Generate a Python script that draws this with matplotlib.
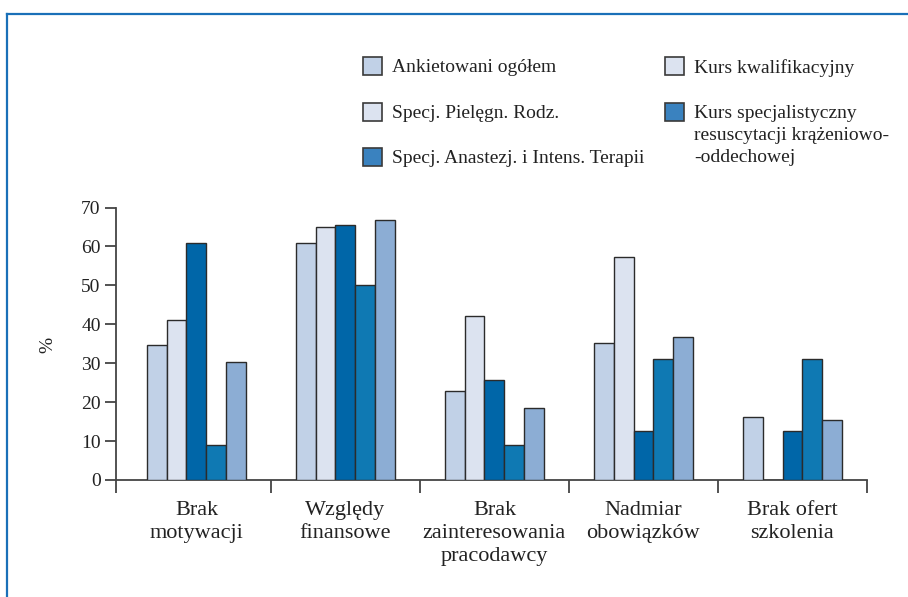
import matplotlib
matplotlib.use("Agg")
import matplotlib.pyplot as plt
from matplotlib.patches import Rectangle
from matplotlib.lines import Line2D
import numpy as np

plt.rcParams['font.family'] = ['Liberation Serif', 'DejaVu Serif']

categories = ["Brak\nmotywacji", "Względy\nfinansowe", "Brak\nzainteresowania\npracodawcy",
              "Nadmiar\nobowiązków", "Brak ofert\nszkolenia"]
series_names = ["Ankietowani ogółem", "Specj. Pielęgn. Rodz.", "Specj. Anastezj. i Intens. Terapii",
                "Kurs kwalifikacyjny", "Kurs specjalistyczny\nresuscytacji krążeniowo-\n-oddechowej"]
ankietowani = [34.7, 60.9, 22.8, 35.2, 16.3]
pielegn = [41.2, 65.0, 42.1, 57.3, 0.0]
anastezj = [60.9, 65.5, 25.7, 12.7, 12.7]
kurs_kwal = [9.1, 50.1, 9.0, 31.1, 31.2]
kurs_spec = [30.3, 66.8, 18.5, 36.7, 15.4]
series_values = [ankietowani, pielegn, anastezj, kurs_kwal, kurs_spec]
bar_colors = ["#c1d1e7", "#dce3f0", "#0066a8", "#0f79b3", "#8cadd4"]
legend_colors = ["#c1d1e7", "#dce3f0", "#3a82bf", "#dce3f0", "#3a82bf"]
yticks = [0, 10, 20, 30, 40, 50, 60, 70]

W, H = 908, 597
fig = plt.figure(figsize=(W / 100, H / 100), dpi=100)

def fx(px):
    return px / W

def fy(py):
    return 1 - py / H

# frame lines (blue)
fig.add_artist(Line2D([fx(7), fx(908)], [fy(14), fy(14)], color="#1a70b8", lw=1.6,
                      transform=fig.transFigure))
fig.add_artist(Line2D([fx(7), fx(7)], [fy(14), fy(597)], color="#1a70b8", lw=1.6,
                      transform=fig.transFigure))

ax = fig.add_axes([fx(116), fy(480), fx(867) - fx(116), fy(207.5) - fy(480)])
n = len(categories)
x = np.arange(n)
bw = 0.134
for i, (vals, col) in enumerate(zip(series_values, bar_colors)):
    ax.bar(x + (i - 2) * bw, vals, width=bw, color=col, edgecolor="#2b2b2b", linewidth=1.0,
           zorder=3)

xl = -0.54
ax.set_xlim(xl, 4.5)
ax.set_ylim(0, 70)
ax.set_yticks(yticks)
ax.set_yticklabels([str(t) for t in yticks], fontsize=14, color="#222222")
ax.tick_params(axis='y', direction='out', length=8, width=1.3, color="#444444", pad=3)

ax.set_xticks(x)
ax.set_xticklabels(categories, fontsize=16, color="#222222", linespacing=1.28)
ax.tick_params(axis='x', which='major', length=0, pad=15)
ax.set_xticks([xl] + list(np.arange(0.5, 4.6, 1.0)), minor=True)
ax.tick_params(axis='x', which='minor', direction='out', length=9, width=1.3, color="#444444")

for s in ["top", "right"]:
    ax.spines[s].set_visible(False)
for s in ["left", "bottom"]:
    ax.spines[s].set_color("#444444")
    ax.spines[s].set_linewidth(1.3)

fig.text(fx(48), fy(345), "%", rotation=90, fontsize=14, ha="center", va="center", color="#222222")

# legend (manual)
legend_pos = [(363, 66), (363, 112), (363, 157), (665, 66), (665, 112)]
for (px, py), name, col in zip(legend_pos, series_names, legend_colors):
    fig.add_artist(Rectangle((fx(px), fy(py + 9)), fx(19), 18 / H, facecolor=col,
                             edgecolor="#3a3a3a", linewidth=1.2, transform=fig.transFigure))
    fig.text(fx(px + 29), fy(py - 7), name, fontsize=14, ha="left", va="top",
             color="#222222", linespacing=1.4)

fig.savefig("out.png", dpi=100)
